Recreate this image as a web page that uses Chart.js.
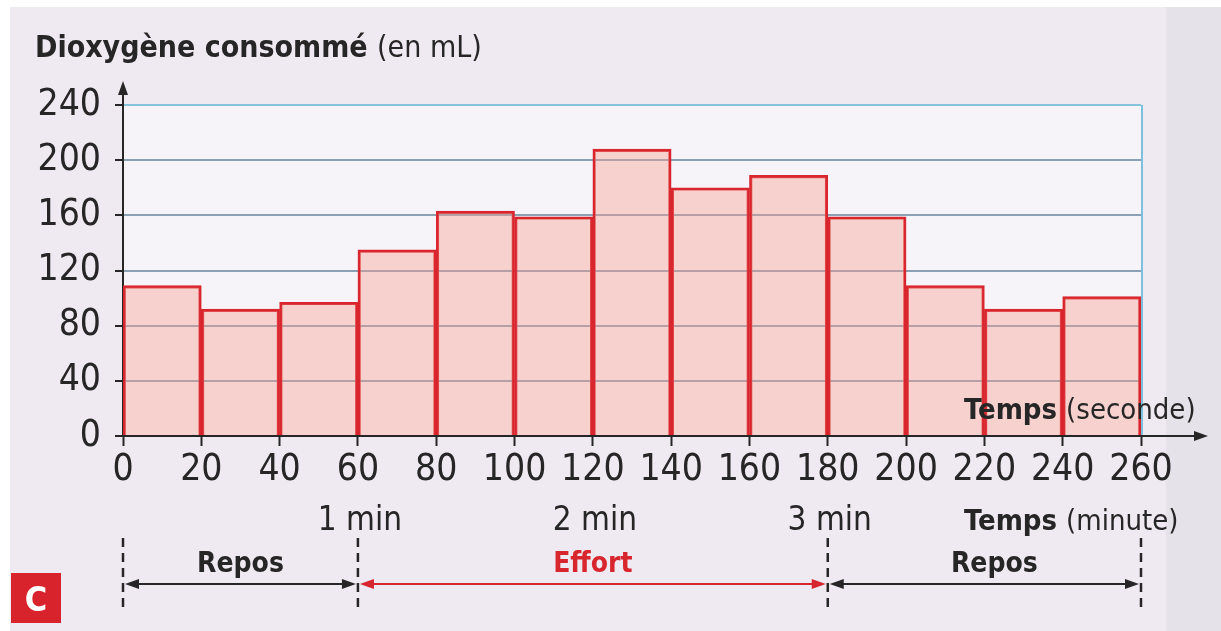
<!DOCTYPE html>
<html>
<head>
<meta charset="utf-8">
<script src="https://cdn.jsdelivr.net/npm/chart.js@4"></script>
<style>
  html, body { margin: 0; padding: 0; background: #fff; }
</style>
</head>
<body>
<canvas id="o2Chart" width="1221" height="631"></canvas>
<script>
// dioxygen consumed per 20 s interval
const binStarts = [0, 20, 40, 60, 80, 100, 120, 140, 160, 180, 200, 220, 240];
const binWidth = 20;
const o2Values = [109, 92, 97, 135, 163, 159, 208, 180, 189, 159, 109, 92, 101];
const yMax = 240, yStep = 40;
const xMax = 260, xStep = 20;
const minuteTicks = [60, 120, 180];
const minuteLabels = ['1 min', '2 min', '3 min'];
const phaseLabels = ['Repos', 'Effort', 'Repos'];
const phaseStarts = [0, 60, 180];
const phaseEnds = [60, 180, 260];
const phaseColors = ['#262626', '#d8262e', '#262626'];

const NARROW = "'Liberation Sans Narrow', 'DejaVu Sans Condensed', 'Liberation Sans', sans-serif";
const INK = '#262626';

function arrowHead(ctx, x, y, dir, color) {
  // dir: 'left' | 'right' | 'up'
  const L = 14, W = 5;
  ctx.fillStyle = color;
  ctx.beginPath();
  if (dir === 'right') { ctx.moveTo(x, y); ctx.lineTo(x - L, y - W); ctx.lineTo(x - L, y + W); }
  else if (dir === 'left') { ctx.moveTo(x, y); ctx.lineTo(x + L, y - W); ctx.lineTo(x + L, y + W); }
  else { ctx.moveTo(x, y); ctx.lineTo(x - W, y + L); ctx.lineTo(x + W, y + L); }
  ctx.closePath();
  ctx.fill();
}

const paper = {
  id: 'paper',
  beforeDraw(chart) {
    const {ctx, width, height, chartArea: a} = chart;
    ctx.save();
    ctx.fillStyle = '#ffffff';
    ctx.fillRect(0, 0, width, height);
    ctx.fillStyle = '#efeaf1';
    ctx.fillRect(10, 7, width - 10, height - 7);
    ctx.fillStyle = 'rgba(195,195,205,0.2)';
    ctx.fillRect(1166, 7, width - 1166, height - 7);
    ctx.fillStyle = '#f6f4f9';
    ctx.fillRect(a.left, a.top, a.right - a.left, a.bottom - a.top);
    ctx.restore();
  },
  beforeDatasetsDraw(chart) {
    const {ctx, chartArea: a} = chart;
    ctx.save();
    ctx.strokeStyle = '#7cc0e0';
    ctx.lineWidth = 2;
    ctx.beginPath();
    ctx.moveTo(a.right + 1, a.top);
    ctx.lineTo(a.right + 1, a.bottom);
    ctx.stroke();
    ctx.restore();
  },
  afterDraw(chart) {
    const {ctx, chartArea: a} = chart;
    const xs = chart.scales.x;
    ctx.save();
    ctx.strokeStyle = INK;
    ctx.lineWidth = 2;

    // axis arrows
    ctx.beginPath();
    ctx.moveTo(a.left, a.top);
    ctx.lineTo(a.left, a.top - 16);
    ctx.moveTo(a.right, a.bottom);
    ctx.lineTo(1196, a.bottom);
    ctx.stroke();
    arrowHead(ctx, a.left, a.top - 24, 'up', INK);
    arrowHead(ctx, 1208, a.bottom, 'right', INK);

    // title
    ctx.fillStyle = INK;
    ctx.textBaseline = 'alphabetic';
    ctx.textAlign = 'left';
    ctx.font = "bold 30px " + NARROW;
    const t1 = 'Dioxygène consommé ';
    ctx.fillText(t1, 35, 57);
    const w1 = ctx.measureText(t1).width;
    ctx.font = "30px " + NARROW;
    ctx.fillText('(en mL)', 35 + w1, 57);

    // axis names
    function label2(bold, rest, x, y) {
      ctx.font = "bold 29px " + NARROW;
      ctx.fillText(bold, x, y);
      const w = ctx.measureText(bold).width;
      ctx.font = "29px " + NARROW;
      ctx.fillText(rest, x + w, y);
    }
    label2('Temps ', '(seconde)', 964, 419);
    label2('Temps ', '(minute)', 964, 530);

    // minute labels
    ctx.font = "33px " + NARROW;
    ctx.textAlign = 'center';
    minuteTicks.forEach((m, i) => {
      ctx.fillText(minuteLabels[i], xs.getPixelForValue(m) + 2, 530);
    });

    // phase dashed separators
    const bounds = [...new Set(phaseStarts.concat(phaseEnds))];
    ctx.setLineDash([9, 6]);
    ctx.lineWidth = 2.5;
    ctx.strokeStyle = INK;
    bounds.forEach(v => {
      const x = xs.getPixelForValue(v);
      ctx.beginPath();
      ctx.moveTo(x, 538);
      ctx.lineTo(x, 612);
      ctx.stroke();
    });
    ctx.setLineDash([]);

    // phase arrows + labels
    const ay = 584;
    phaseLabels.forEach((lab, i) => {
      const x0 = xs.getPixelForValue(phaseStarts[i]) + 2;
      const x1 = xs.getPixelForValue(phaseEnds[i]) - 2;
      const col = phaseColors[i];
      ctx.strokeStyle = col;
      ctx.lineWidth = 2;
      ctx.beginPath();
      ctx.moveTo(x0 + 10, ay);
      ctx.lineTo(x1 - 10, ay);
      ctx.stroke();
      arrowHead(ctx, x0, ay, 'left', col);
      arrowHead(ctx, x1, ay, 'right', col);
      ctx.fillStyle = col;
      ctx.font = "bold 28px " + NARROW;
      ctx.textAlign = 'center';
      ctx.fillText(lab, (x0 + x1) / 2 + (i === 2 ? 10 : 0), 572);
    });

    // figure tag
    ctx.fillStyle = '#d9232c';
    ctx.fillRect(11, 573, 50, 50);
    ctx.fillStyle = '#ffffff';
    ctx.font = "bold 34px " + NARROW;
    ctx.textAlign = 'center';
    ctx.fillText('C', 36, 611);
    ctx.restore();
  }
};

new Chart(document.getElementById('o2Chart'), {
  type: 'bar',
  data: {
    datasets: [{
      label: 'Dioxygène consommé (en mL)',
      data: binStarts.map((s, i) => ({x: s + binWidth / 2, y: o2Values[i]})),
      backgroundColor: 'rgba(246,160,145,0.42)',
      borderColor: '#d9262e',
      borderWidth: 2.5,
      barPercentage: 1,
      categoryPercentage: 1
    }]
  },
  options: {
    responsive: false,
    animation: false,
    devicePixelRatio: 1,
    layout: { padding: { left: 0, top: 105, right: 80, bottom: 0 } },
    plugins: { legend: { display: false }, tooltip: { enabled: false } },
    scales: {
      x: {
        type: 'linear',
        min: 0, max: xMax,
        offset: false,
        afterFit(scale) { scale.height = 195; },
        grid: { offset: false, drawOnChartArea: false, drawTicks: true, tickLength: 10, tickColor: INK, tickWidth: 2 },
        border: { color: INK, width: 2 },
        ticks: { stepSize: xStep, color: INK, padding: 2, maxRotation: 0, autoSkip: false, font: { family: NARROW, size: 37 } }
      },
      y: {
        min: 0, max: yMax,
        afterFit(scale) { scale.width = 123; },
        grid: {
          color: ctx => ctx.tick && ctx.tick.value === yMax ? '#86c4de' : '#8aa0b4',
          lineWidth: 2,
          tickLength: 8, tickColor: INK, tickWidth: 2
        },
        border: { color: INK, width: 2 },
        ticks: { stepSize: yStep, color: INK, padding: 14, font: { family: NARROW, size: 37 } }
      }
    }
  },
  plugins: [paper]
});
</script>
</body>
</html>
